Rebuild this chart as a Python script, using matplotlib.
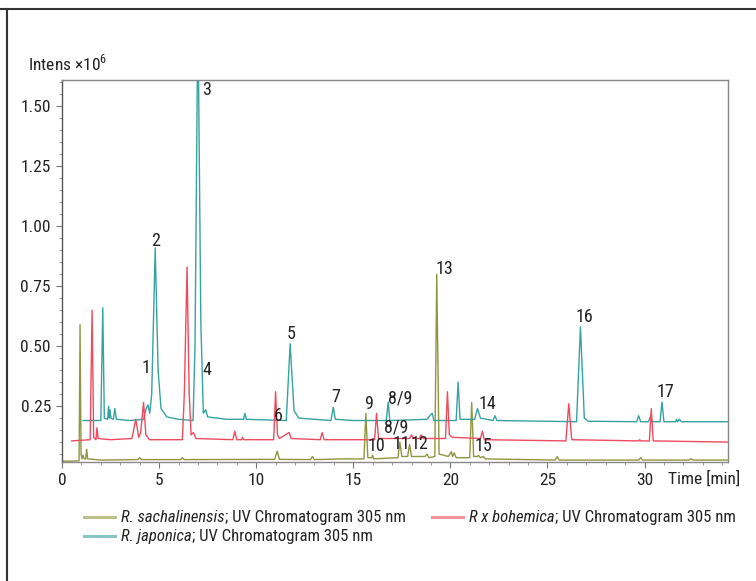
import matplotlib.pyplot as plt
from matplotlib.lines import Line2D
from matplotlib.ticker import MultipleLocator, FormatStrFormatter

plt.rcParams['font.family'] = ['Roboto Condensed', 'DejaVu Sans']
plt.rcParams['mathtext.fontset'] = 'custom'
plt.rcParams['mathtext.rm'] = 'Roboto Condensed'

# R. japonica (time [min], intensity x10^6)
jap_t = [1.08, 2.0, 2.1, 2.18, 2.35, 2.4, 2.44, 2.47, 2.52, 2.65, 2.72, 2.8, 3.5,
         4.2, 4.33, 4.43, 4.52, 4.62, 4.8, 4.95, 5.1, 5.4, 6.0, 6.75, 6.85, 7.0,
         7.15, 7.28, 7.4, 7.5, 8.5, 9.35, 9.42, 9.5, 11.55, 11.75, 11.95, 12.2,
         13.85, 13.97, 14.08, 15.0, 16.7, 16.8, 16.88, 18.8, 19.0, 19.07, 19.15,
         20.3, 20.4, 20.5, 21.25, 21.4, 21.55, 22.2, 22.3, 22.4, 26.5, 26.7, 26.9,
         27.1, 29.6, 29.7, 29.8, 30.2, 30.3, 30.4, 30.8, 30.9, 31.0, 31.6, 31.65,
         31.7, 31.8, 31.9, 34.3]
jap_v = [0.19, 0.19, 0.66, 0.20, 0.195, 0.25, 0.20, 0.235, 0.20, 0.195, 0.24, 0.195, 0.19,
         0.195, 0.24, 0.255, 0.22, 0.30, 0.91, 0.40, 0.24, 0.205, 0.195, 0.19, 0.50, 1.90,
         0.60, 0.22, 0.235, 0.205, 0.195, 0.195, 0.22, 0.195, 0.19, 0.51, 0.23, 0.20,
         0.19, 0.245, 0.195, 0.19, 0.19, 0.267, 0.19, 0.195, 0.215, 0.22, 0.19,
         0.19, 0.35, 0.195, 0.195, 0.24, 0.20, 0.19, 0.21, 0.19, 0.185, 0.58, 0.20,
         0.187, 0.185, 0.21, 0.185, 0.185, 0.205, 0.185, 0.185, 0.267, 0.185, 0.185, 0.195,
         0.185, 0.195, 0.185, 0.185]

# R x bohemica
boh_t = [0.5, 1.45, 1.55, 1.63, 1.75, 1.8, 1.86, 2.5, 3.6, 3.8, 3.95, 4.05, 4.2, 4.32,
         4.5, 6.2, 6.3, 6.44, 6.55, 6.65, 6.77, 6.9, 8.8, 8.9, 9.0, 9.25, 9.3, 9.35,
         10.9, 11.0, 11.1, 11.2, 11.7, 11.8, 13.3, 13.4, 13.5, 16.1, 16.2, 16.3,
         17.9, 18.0, 18.1, 18.4, 18.5, 18.6, 19.75, 19.85, 19.95, 20.1, 21.55, 21.65,
         21.75, 25.95, 26.1, 26.25, 29.7, 29.75, 29.8, 30.25, 30.35, 30.45, 34.3]
boh_v = [0.105, 0.11, 0.65, 0.12, 0.11, 0.16, 0.115, 0.11, 0.115, 0.195, 0.12, 0.14, 0.265, 0.13,
         0.11, 0.11, 0.30, 0.83, 0.30, 0.13, 0.14, 0.115, 0.11, 0.145, 0.11, 0.11, 0.12, 0.11,
         0.11, 0.31, 0.13, 0.115, 0.14, 0.115, 0.11, 0.14, 0.11, 0.11, 0.22, 0.115,
         0.115, 0.13, 0.115, 0.115, 0.13, 0.115, 0.115, 0.31, 0.13, 0.12, 0.115, 0.145,
         0.11, 0.105, 0.26, 0.11, 0.105, 0.11, 0.105, 0.105, 0.24, 0.105, 0.10]

# R. sachalinensis
sac_t = [0.0, 0.88, 0.93, 0.98, 1.03, 1.08, 1.15, 1.22, 1.27, 1.32, 2.0, 3.9, 4.0, 4.1,
         6.1, 6.2, 6.3, 10.95, 11.08, 11.2, 12.8, 12.9, 13.0, 14.5, 15.55, 15.65, 15.75,
         15.95, 16.0, 16.05, 17.3, 17.4, 17.5, 17.8, 17.9, 18.0, 18.7, 18.8, 18.9,
         19.2, 19.3, 19.42, 19.9, 20.05, 20.12, 20.2, 20.3, 21.0, 21.1, 21.2, 21.4,
         21.45, 21.55, 21.7, 21.8, 25.4, 25.5, 25.6, 29.7, 29.8, 29.9, 32.3, 32.4,
         32.5, 34.3]
sac_v = [0.02, 0.022, 0.59, 0.05, 0.03, 0.045, 0.03, 0.03, 0.07, 0.03, 0.025, 0.027, 0.035, 0.027,
         0.027, 0.035, 0.027, 0.028, 0.062, 0.028, 0.027, 0.04, 0.027, 0.03, 0.03, 0.22, 0.035,
         0.035, 0.045, 0.03, 0.035, 0.10, 0.04, 0.04, 0.09, 0.04, 0.04, 0.05, 0.035,
         0.04, 0.80, 0.05, 0.04, 0.06, 0.04, 0.055, 0.035, 0.035, 0.265, 0.04, 0.04,
         0.045, 0.035, 0.04, 0.03, 0.025, 0.04, 0.025, 0.025, 0.035, 0.025, 0.025, 0.03,
         0.025, 0.025]

# peak labels: text, time, intensity
peak_lbl = ['1', '2', '3', '4', '5', '6', '7', '9', '8/9', '8/9', '10', '11', '12',
            '13', '14', '15', '16', '17']
peak_t = [4.33, 4.8, 7.42, 7.47, 11.8, 11.13, 14.1, 15.8, 17.4, 17.2, 16.2, 17.5, 18.4,
          19.7, 21.9, 21.7, 26.9, 31.1]
peak_v = [0.41, 0.94, 1.57, 0.40, 0.55, 0.21, 0.29, 0.26, 0.28, 0.16, 0.083, 0.09, 0.09,
          0.82, 0.26, 0.083, 0.62, 0.31]

# legend: species (italic), rest of label
leg_species = ['R. sachalinensis', 'R. japonica', 'R x bohemica']
leg_rest = '; UV Chromatogram 305 nm'

c_sac = '#8f963f'
c_boh = '#ef4a5e'
c_jap = '#35a3a0'

W, H = 756, 581
fig = plt.figure(figsize=(W / 100, H / 100), dpi=100)
ax = fig.add_axes([62 / W, 1 - 462 / H, 666 / W, 382 / H])

ax.plot(sac_t, sac_v, color=c_sac, lw=1.0)
ax.plot(jap_t, jap_v, color=c_jap, lw=1.0)
ax.plot(boh_t, boh_v, color=c_boh, lw=1.0)

for s, t, v in zip(peak_lbl, peak_t, peak_v):
    ax.text(t, v, s, ha='center', va='center', fontsize=13, color='#222222')

ax.set_xlim(0, 34.3)
ax.set_ylim(0.017, 1.61)
ax.xaxis.set_minor_locator(MultipleLocator(1))
ax.yaxis.set_major_locator(MultipleLocator(0.25))
ax.yaxis.set_minor_locator(MultipleLocator(0.05))
ax.yaxis.set_major_formatter(FormatStrFormatter('%.2f'))
ax.set_xticks([0, 5, 10, 15, 20, 25, 30])
ax.tick_params(labelsize=12.5, labelcolor='#222222', color='#777777', length=4,
               width=0.8, pad=4)
ax.tick_params(which='minor', color='#999999', length=2.5, width=0.7)
for sp in ax.spines.values():
    sp.set_color('#888888')
    sp.set_linewidth(1.0)
ax.spines['left'].set_color('#555555')

fig.text(668 / W, 1 - 479 / H, 'Time [min]', ha='left', va='center', fontsize=12.5,
         color='#222222')
fig.text(28 / W, 1 - 63 / H, r'Intens $\times$10$^{6}$', ha='left', va='center',
         fontsize=12.5, color='#222222')

# legend drawn by hand so the species name can be italic
leg_x = [84, 84, 432]
leg_y = [517, 536, 517]
leg_c = [c_sac, c_jap, c_boh]
renderer = fig.canvas.get_renderer()
for name, x0, y0, c in zip(leg_species, leg_x, leg_y, leg_c):
    fig.add_artist(Line2D([x0 / W, (x0 + 31) / W], [1 - y0 / H, 1 - y0 / H], color=c,
                          lw=2.2, alpha=0.6, transform=fig.transFigure))
    t1 = fig.text((x0 + 37) / W, 1 - (y0 + 5) / H, name, style='italic', fontsize=12,
                  va='baseline', ha='left', color='#222222')
    bb = t1.get_window_extent(renderer)
    fig.text(bb.x1 / W, 1 - (y0 + 5) / H, leg_rest, fontsize=12, va='baseline',
             ha='left', color='#222222')

# figure frame (top and left edges)
fig.add_artist(Line2D([0, 1], [1 - 9 / H, 1 - 9 / H], color='#333333', lw=1.5,
                      transform=fig.transFigure))
fig.add_artist(Line2D([7 / W, 7 / W], [0, 1 - 9 / H], color='#333333', lw=1.5,
                      transform=fig.transFigure))

fig.savefig('out.png', dpi=100)
